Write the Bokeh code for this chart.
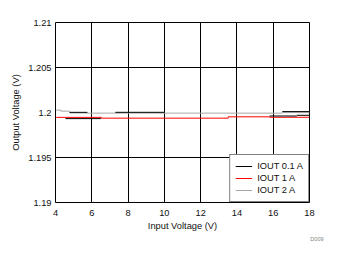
import math
from bokeh.plotting import figure
from bokeh.models import FixedTicker, Legend, LegendItem, Title
from bokeh.embed import file_html
from bokeh.resources import INLINE

nan = math.nan

# IOUT 0.1 A (segments separated by NaN)
x_01 = [4.77, 5.75, nan, 4.55, 6.5, nan, 7.3, 10.0, nan, 15.8, 17.3, nan, 17.3, 18.0, nan, 16.5, 18.0]
y_01 = [1.19998, 1.19998, nan, 1.19932, 1.19932, nan, 1.20002, 1.20002, nan, 1.19961, 1.19961, nan, 1.19969, 1.19969, nan, 1.2001, 1.2001]

# IOUT 1 A
x_1 = [4.04, 6.52, 6.52, 13.52, 13.52, 15.8, 15.8, 18.0]
y_1 = [1.19946, 1.19946, 1.19937, 1.19937, 1.19952, 1.19952, 1.19947, 1.19947]

# IOUT 2 A
x_2 = [4.04, 4.3, 4.3, 4.77, 4.77, 5.75, 5.75, 16.5, 16.5, 18.0]
y_2 = [1.20026, 1.20026, 1.20015, 1.20015, 1.20005, 1.20005, 1.19993, 1.19993, 1.19999, 1.19999]

x_ticks = [4, 6, 8, 10, 12, 14, 16, 18]
y_ticks = [1.19, 1.195, 1.2, 1.205, 1.21]
y_tick_labels = ["1.19", "1.195", "1.2", "1.205", "1.21"]
y_grid_ticks = [1.195, 1.205]

FONT = "Liberation Sans"
FS = "9.3px"

p = figure(width=338, height=254, output_backend="svg", toolbar_location=None,
           x_range=(4, 18), y_range=(1.19, 1.21),
           min_border_left=55, min_border_right=29, min_border_top=22, min_border_bottom=52)
p.background_fill_color = "white"
p.border_fill_color = "white"
p.outline_line_color = "black"
p.outline_line_width = 1

p.xaxis.ticker = FixedTicker(ticks=x_ticks)
p.yaxis.ticker = FixedTicker(ticks=y_ticks)
p.yaxis.major_label_overrides = {t: l for t, l in zip(y_ticks, y_tick_labels)}
for ax in (p.xaxis[0], p.yaxis[0]):
    ax.axis_line_color = None
    ax.major_tick_line_color = None
    ax.minor_tick_line_color = None
    ax.major_tick_out = 0
    ax.major_tick_in = 0
    ax.minor_tick_out = 0
    ax.minor_tick_in = 0
    ax.major_label_text_font = FONT
    ax.major_label_text_font_size = FS
    ax.major_label_text_color = "#111111"
    ax.axis_label_text_font = FONT
    ax.axis_label_text_font_size = FS
    ax.axis_label_text_font_style = "normal"
    ax.axis_label_text_color = "#111111"
p.xaxis.axis_label = "Input Voltage (V)"
p.yaxis.axis_label = "Output Voltage (V)"
p.xaxis.major_label_standoff = 7
p.xaxis.axis_label_standoff = 2
p.yaxis.major_label_standoff = 4
p.yaxis.axis_label_standoff = 4

p.xgrid.grid_line_color = "black"
p.ygrid.grid_line_color = "black"
p.ygrid.ticker = FixedTicker(ticks=y_grid_ticks)
p.xgrid.grid_line_width = 1
p.ygrid.grid_line_width = 1
p.xgrid.grid_line_alpha = 1
p.ygrid.grid_line_alpha = 1

r2 = p.line(x_2, y_2, line_color="#a6a6a6", line_width=1)
r1 = p.line(x_1, y_1, line_color="#ff0000", line_width=1)
r01 = p.line(x_01, y_01, line_color="black", line_width=1)

legend = Legend(items=[LegendItem(label="IOUT 0.1 A", renderers=[r01]),
                       LegendItem(label="IOUT 1 A", renderers=[r1]),
                       LegendItem(label="IOUT 2 A", renderers=[r2])],
                location="bottom_right", margin=0, padding=5, spacing=0,
                label_height=12, glyph_height=12, glyph_width=17, label_standoff=5,
                label_text_font=FONT, label_text_font_size=FS, label_text_color="#111111",
                border_line_color="black", border_line_width=1,
                background_fill_color="white", background_fill_alpha=1)
p.add_layout(legend)

p.add_layout(Title(text="D009", align="right", offset=-14, standoff=0, text_font=FONT,
                   text_font_size="5.5px", text_color="#808080",
                   text_font_style="normal"), "below")

open("out.html", "w").write(file_html(p, INLINE))
